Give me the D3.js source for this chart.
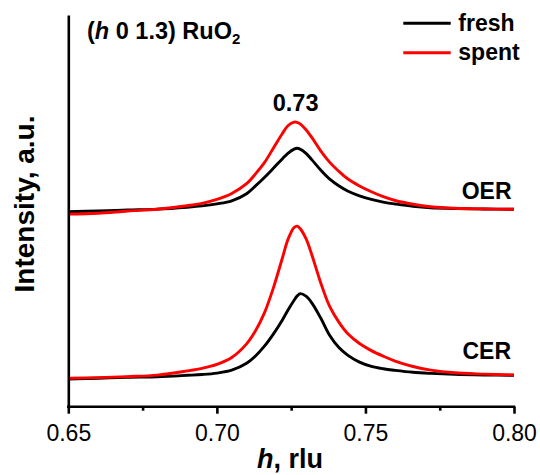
<!DOCTYPE html>
<html>
<head>
<meta charset="utf-8">
<script src="https://cdn.jsdelivr.net/npm/d3@7"></script>
<style>
  html, body { margin: 0; padding: 0; background: #fff; }
  svg { display: block; font-family: "Liberation Sans", Arial, sans-serif; }
</style>
</head>
<body>
<svg id="chart" width="540" height="475"></svg>
<script>
// ---- data ----
const hValues = [0.650, 0.660, 0.670, 0.680, 0.690, 0.695, 0.700, 0.705, 0.710, 0.713, 0.716, 0.719, 0.722, 0.724, 0.726, 0.727, 0.728, 0.730, 0.732, 0.735, 0.738, 0.741, 0.744, 0.748, 0.752, 0.756, 0.760, 0.766, 0.772, 0.780, 0.790, 0.800];
const oerFresh = [195.0, 195.7, 196.7, 197.6, 199.5, 200.8, 202.8, 205.9, 213.0, 220.8, 229.2, 238.4, 247.8, 253.6, 257.6, 258.4, 257.6, 253.4, 246.8, 236.4, 227.5, 220.9, 215.7, 210.9, 207.3, 204.5, 202.7, 200.4, 199.0, 198.2, 197.7, 197.4];
const oerSpent = [192.7, 193.5, 195.7, 197.5, 201.0, 203.4, 207.3, 213.2, 223.0, 232.8, 244.0, 258.5, 273.0, 281.2, 284.6, 284.4, 282.8, 277.0, 269.0, 255.6, 244.3, 235.5, 227.9, 220.7, 214.9, 210.0, 206.2, 202.5, 200.0, 198.4, 197.7, 197.4];
const cerFresh = [27.7, 28.5, 29.4, 30.0, 31.4, 32.2, 33.6, 36.5, 43.4, 50.7, 60.5, 72.6, 86.5, 97.0, 106.5, 110.6, 113.0, 110.5, 103.6, 88.4, 71.2, 59.4, 51.6, 44.6, 40.3, 37.9, 36.3, 34.4, 33.3, 32.3, 31.7, 31.4];
const cerSpent = [28.4, 29.1, 30.1, 31.6, 35.8, 38.4, 42.3, 49.2, 62.8, 75.9, 93.8, 118.6, 148.2, 167.8, 179.2, 180.6, 178.2, 168.0, 151.5, 123.5, 100.0, 84.8, 73.2, 63.2, 56.1, 50.5, 45.6, 40.2, 36.6, 33.9, 32.6, 31.7];
const xMajorTicks = [0.65, 0.70, 0.75, 0.80];
const xMinorTicks = [0.675, 0.725, 0.775];
const seriesNames = ["fresh", "spent"];
const seriesColors = ["#000000", "#ff0000"];
const peakLabel = "0.73";
const panelLabels = ["OER", "CER"];

// ---- layout ----
const svg = d3.select("#chart");
const margin = { left: 68.3, right: 26, top: 15, bottom: 68.3 };
const W = 540, H = 475;
const x = d3.scaleLinear().domain([0.65, 0.80]).range([margin.left, W - margin.right]);
const y = d3.scaleLinear().domain([0, 391.7]).range([H - margin.bottom, margin.top]);

const line = d3.line()
  .x((d, i) => x(hValues[i]))
  .y(d => y(d))
  .curve(d3.curveCatmullRom.alpha(0.5));

const series = [
  { vals: oerFresh, color: seriesColors[0] },
  { vals: oerSpent, color: seriesColors[1] },
  { vals: cerFresh, color: seriesColors[0] },
  { vals: cerSpent, color: seriesColors[1] }
];

svg.append("g").selectAll("path").data(series).join("path")
  .attr("d", d => line(d.vals))
  .attr("fill", "none")
  .attr("stroke", d => d.color)
  .attr("stroke-width", 2.9)
  .attr("stroke-linejoin", "round");

// ---- axes ----
const xAxis = d3.axisBottom(x)
  .tickValues(xMajorTicks)
  .tickFormat(d3.format(".2f"))
  .tickSize(7)
  .tickSizeOuter(0);
const gx = svg.append("g").attr("transform", `translate(0,${y(0)})`).call(xAxis);
gx.select(".domain").attr("stroke", "#000").attr("stroke-width", 2.6)
  .attr("d", `M${x(0.65) - 1.3},0H${x(0.80) + 1.3}`);
gx.selectAll(".tick line").attr("stroke-width", 2.6);
gx.selectAll(".tick text")
  .attr("font-size", 23)
  .attr("font-family", "Liberation Sans, Arial, sans-serif")
  .attr("fill", "#000")
  .attr("dy", null)
  .attr("y", 34);

const xMinor = d3.axisBottom(x).tickValues(xMinorTicks).tickSize(4).tickFormat("");
const gm = svg.append("g").attr("transform", `translate(0,${y(0)})`).call(xMinor);
gm.select(".domain").remove();
gm.selectAll(".tick line").attr("stroke-width", 2.6);

const yAxis = d3.axisLeft(y).tickValues([]).tickSizeOuter(0);
const gy = svg.append("g").attr("transform", `translate(${x(0.65)},0)`).call(yAxis);
gy.select(".domain").attr("stroke", "#000").attr("stroke-width", 2.6);

// ---- axis titles ----
const xt = svg.append("text")
  .attr("x", 290).attr("y", 468)
  .attr("text-anchor", "middle")
  .attr("font-size", 27).attr("font-weight", "bold");
xt.append("tspan").attr("font-style", "italic").text("h");
xt.append("tspan").text(", rlu");

svg.append("text")
  .attr("transform", "translate(33.5,204) rotate(-90)")
  .attr("text-anchor", "middle")
  .attr("font-size", 28).attr("font-weight", "bold")
  .text("Intensity, a.u.");

// ---- annotations ----
const title = svg.append("text")
  .attr("x", 87).attr("y", 39.3)
  .attr("font-size", 23.5).attr("font-weight", "bold");
title.append("tspan").text("(");
title.append("tspan").attr("font-style", "italic").text("h");
title.append("tspan").text(" 0 1.3) RuO");
title.append("tspan").attr("font-size", 15).attr("dy", 5).text("2");

svg.append("text")
  .attr("x", x(0.7265)).attr("y", 111)
  .attr("text-anchor", "middle")
  .attr("font-size", 23.5).attr("font-weight", "bold")
  .text(peakLabel);

svg.append("text")
  .attr("x", 511.5).attr("y", y(406.7 - 199.3))
  .attr("text-anchor", "end")
  .attr("font-size", 23).attr("font-weight", "bold")
  .text(panelLabels[0]);
svg.append("text")
  .attr("x", 511).attr("y", y(406.7 - 359))
  .attr("text-anchor", "end")
  .attr("font-size", 23).attr("font-weight", "bold")
  .text(panelLabels[1]);

// ---- legend ----
const legend = svg.append("g");
seriesNames.forEach((name, i) => {
  const cy = 23.3 + i * 29.4;
  legend.append("line")
    .attr("x1", 403.3).attr("x2", 450.7)
    .attr("y1", cy).attr("y2", cy)
    .attr("stroke", seriesColors[i]).attr("stroke-width", 3);
  legend.append("text")
    .attr("x", 458.3).attr("y", cy + 7.6)
    .attr("font-size", 23).attr("font-weight", "bold")
    .text(name);
});
</script>
</body>
</html>
